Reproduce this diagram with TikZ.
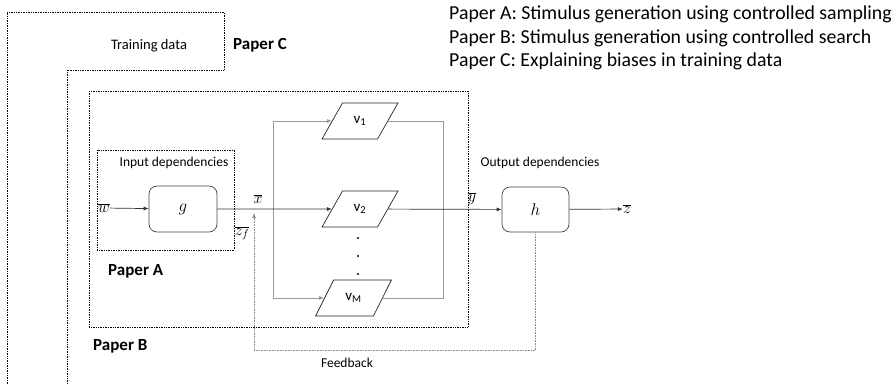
\RequirePackage{fix-cm}
\documentclass[tikz,border=0pt]{standalone}
\usepackage{fontspec}
\setmainfont{Carlito}
\usetikzlibrary{shapes.geometric,arrows.meta}
\begin{document}
\begin{tikzpicture}[x=1pt,y=-1pt,
  lbl/.style={font=\fontsize{13.5}{15}\selectfont, inner sep=0pt},
  paper/.style={font=\fontsize{17}{19}\selectfont\bfseries, inner sep=0pt, anchor=west},
  legend/.style={font=\fontsize{19.8}{22}\selectfont, inner sep=0pt, anchor=west},
  mlbl/.style={font=\fontsize{16}{18}\selectfont, inner sep=0pt},
  fbox/.style={draw=black, densely dotted, line width=0.7pt},
  rbox/.style={draw=black!75, rounded corners=8pt, minimum width=68pt, minimum height=46pt, inner sep=0pt, line width=0.7pt, font=\fontsize{17}{19}\selectfont},
  para/.style={draw=black!85, trapezium, trapezium left angle=52, trapezium right angle=128, trapezium stretches=true, minimum width=76pt, minimum height=36pt, inner sep=0pt, line width=0.7pt, font=\fontsize{15}{17}\selectfont},
  mainline/.style={draw=black!80, line width=0.7pt},
  branch/.style={draw=black!40, line width=0.7pt},
  tip/.style={-{Latex[length=5pt,width=4pt]}},
  fb/.style={draw=black!45, densely dotted, line width=0.6pt}
]
\useasboundingbox (0,0) rectangle (896,384);

% Paper C outline
\draw[fbox] (7,384) -- (7,12) -- (224,12) -- (224,70) -- (67,70) -- (67,384);
\node[lbl, font=\fontsize{14.5}{16}\selectfont] (train) at (149,46) {Training data};
\node[paper] (pc) at (233,45) {Paper C};

% Paper B box
\draw[fbox] (89,91) rectangle (468,327);
\node[paper] (pb) at (93,346) {Paper B};

% Input dependencies box
\draw[fbox] (97,150) rectangle (234,250);
\node[lbl] (indep) at (174,163) {Input dependencies};
\node[paper] (pa) at (108,271) {Paper A};

% legend
\node[legend] (l1) at (449,14) {Paper A: Stimulus generation using controlled sampling};
\node[legend] (l2) at (449,38) {Paper B: Stimulus generation using controlled search};
\node[legend] (l3) at (449,61) {Paper C: Explaining biases in training data};

% nodes
\node[mlbl] (w) at (104,208) {$\overline{w}$};
\node[rbox] (g) at (183,209) {$g$};
\node[rbox, minimum width=67pt, minimum height=45pt] (h) at (535.5,209.5) {$h$};
\node[mlbl] (z) at (627,209) {$\overline{z}$};
\node[para] (v1) at (360,121) {v\textsubscript{1}};
\node[para] (v2) at (360,209) {v\textsubscript{2}};
\node[para] (vM) at (353.5,298) {v\textsubscript{M}};

\node[mlbl] (xl) at (258,199) {$\overline{x}$};
\node[mlbl] (zf) at (242,233) {$\overline{z_f}$};
\node[mlbl] (yl) at (472,199) {$\overline{y}$};
\node[lbl] (outdep) at (540,163) {Output dependencies};
\node[lbl] (fbl) at (347,363) {Feedback};

\coordinate (sp) at (273,209);
\coordinate (jn) at (443,209);
\coordinate (fbt) at (254,213);

% dots
\fill (358,238) circle (1.1pt) (358,256) circle (1.1pt) (358,274) circle (1.1pt);

% branch lines
\draw[branch, tip] (sp) |- (v1);
\draw[branch, tip] (sp) |- (vM);
\draw[branch] (v1) -| (jn);
\draw[branch] (vM) -| (jn);

% main line
\draw[mainline, tip] (w) -- (g);
\draw[mainline, tip] (g) -- (v2);
\draw[mainline, tip] (v2) -- (h);
\draw[mainline, tip] (h) -- (z);

% feedback
\draw[fb, tip] (h.south) -- (535.5,350) -| (fbt);
\end{tikzpicture}
\end{document}
